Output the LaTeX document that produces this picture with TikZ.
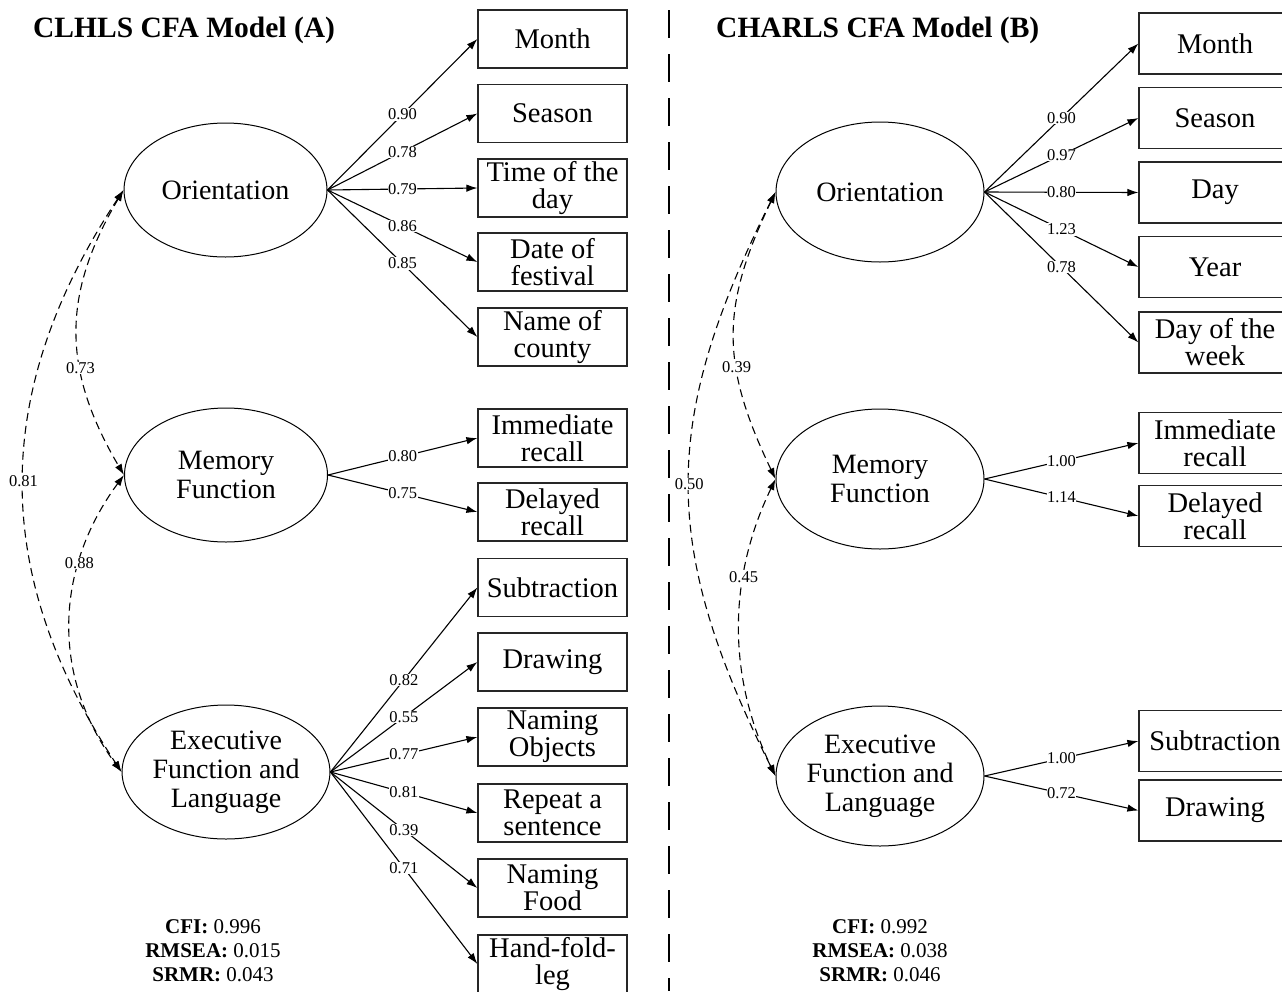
\documentclass[tikz,border=0pt]{standalone}
\usepackage{fontspec}
\setmainfont{Liberation Serif}
\usetikzlibrary{arrows.meta,shapes.geometric}
\begin{document}
\begin{tikzpicture}[x=1pt,y=-1pt,
  box/.style={draw, line width=1.2pt, draw=black!85, minimum width=149pt, minimum height=58pt, inner sep=0pt, align=center, font=\fontsize{28.5}{27}\selectfont},
  rbox/.style={box, minimum width=152pt, minimum height=61pt},
  lat/.style={ellipse, draw, line width=1pt, minimum width=203pt, minimum height=134pt, inner sep=0pt, align=center, font=\fontsize{28}{29}\selectfont},
  rlat/.style={lat, minimum width=208pt, minimum height=140pt},
  load/.style={line width=1.1pt, -{Latex[length=11pt,width=7.5pt]}},
  cov/.style={line width=1.1pt, dash pattern=on 8pt off 5pt, {Latex[length=11pt,width=7.5pt]}-{Latex[length=11pt,width=7.5pt]}},
  lbl/.style={fill=white, inner sep=0.5pt, font=\fontsize{16.5}{16.5}\selectfont},
  ttl/.style={anchor=base west, inner sep=0pt, font=\fontsize{29.5}{29.5}\selectfont\bfseries},
  fitstat/.style={align=center, inner sep=0pt, font=\fontsize{21}{24}\selectfont}
]
\useasboundingbox (0,0) rectangle (1282,991);

% ---------- Panel A ----------
\node[ttl] (tA) at (33,37) {CLHLS CFA Model (A)};

\node[lat] (ori1) at (225.5,190) {Orientation};
\node[lat] (mem1) at (226,475) {Memory\\Function};
\node[lat] (exe1) at (226,772) {Executive\\Function and\\Language};

\node[box] (m1)   at (552.5,39)    {Month};
\node[box] (s1)   at (552.5,113.5) {Season};
\node[box] (t1)   at (552.5,188)   {Time of the\\day};
\node[box] (d1)   at (552.5,262)   {Date of\\festival};
\node[box] (n1)   at (552.5,337)   {Name of\\county};
\node[box] (ir1)  at (552.5,438)   {Immediate\\recall};
\node[box] (dr1)  at (552.5,512)   {Delayed\\recall};
\node[box] (sub1) at (552.5,587.5) {Subtraction};
\node[box] (dra1) at (552.5,662)   {Drawing};
\node[box] (no1)  at (552.5,737)   {Naming\\Objects};
\node[box] (rep1) at (552.5,813)   {Repeat a\\sentence};
\node[box] (nf1)  at (552.5,888)   {Naming\\Food};
\node[box] (hf1)  at (552.5,964)   {Hand-fold-\\leg};

\draw[load] (ori1.east) -- (m1.west)  node[lbl,pos=0.5]{0.90};
\draw[load] (ori1.east) -- (s1.west)  node[lbl,pos=0.5]{0.78};
\draw[load] (ori1.east) -- (t1.west)  node[lbl,pos=0.5]{0.79};
\draw[load] (ori1.east) -- (d1.west)  node[lbl,pos=0.5]{0.86};
\draw[load] (ori1.east) -- (n1.west)  node[lbl,pos=0.5]{0.85};
\draw[load] (mem1.east) -- (ir1.west) node[lbl,pos=0.5]{0.80};
\draw[load] (mem1.east) -- (dr1.west) node[lbl,pos=0.5]{0.75};
\draw[load] (exe1.east) -- (sub1.west) node[lbl,pos=0.5]{0.82};
\draw[load] (exe1.east) -- (dra1.west) node[lbl,pos=0.5]{0.55};
\draw[load] (exe1.east) -- (no1.west)  node[lbl,pos=0.5]{0.77};
\draw[load] (exe1.east) -- (rep1.west) node[lbl,pos=0.5]{0.81};
\draw[load] (exe1.east) -- (nf1.west)  node[lbl,pos=0.5]{0.39};
\draw[load] (exe1.east) -- (hf1.west)  node[lbl,pos=0.5]{0.71};

\draw[cov] (ori1.west) .. controls +(-62,105) and +(-62,-105) .. (mem1.west) node[lbl,pos=0.63]{0.73};
\draw[cov] (ori1.west) .. controls +(-132,200) and +(-132,-200) .. (exe1.west) node[lbl,pos=0.5]{0.81};
\draw[cov] (mem1.west) .. controls +(-70,95) and +(-70,-95) .. (exe1.west) node[lbl,pos=0.3]{0.88};

\node[fitstat] (fitA) at (213,951) {\textbf{CFI:} 0.996\\\textbf{RMSEA:} 0.015\\\textbf{SRMR:} 0.043};

% ---------- Divider ----------
\coordinate (divtop) at (669,10);
\coordinate (divbot) at (669,991);
\draw[line width=2.5pt, dash pattern=on 28pt off 16pt] (divtop) -- (divbot);

% ---------- Panel B ----------
\node[ttl] (tB) at (716,37) {CHARLS CFA Model (B)};

\node[rlat] (ori2) at (880,192) {Orientation};
\node[rlat] (mem2) at (880,479) {Memory\\Function};
\node[rlat] (exe2) at (880,776) {Executive\\Function and\\Language};

\node[rbox] (m2)   at (1215,43.5)  {Month};
\node[rbox] (s2)   at (1215,118)   {Season};
\node[rbox] (day2) at (1215,192.5) {Day};
\node[rbox] (y2)   at (1215,267)   {Year};
\node[rbox] (w2)   at (1215,342.5) {Day of the\\week};
\node[rbox] (ir2)  at (1215,443)   {Immediate\\recall};
\node[rbox] (dr2)  at (1215,516)   {Delayed\\recall};
\node[rbox] (sub2) at (1215,741)   {Subtraction};
\node[rbox] (dra2) at (1215,810.5) {Drawing};

\draw[load] (ori2.east) -- (m2.west)   node[lbl,pos=0.5]{0.90};
\draw[load] (ori2.east) -- (s2.west)   node[lbl,pos=0.5]{0.97};
\draw[load] (ori2.east) -- (day2.west) node[lbl,pos=0.5]{0.80};
\draw[load] (ori2.east) -- (y2.west)   node[lbl,pos=0.5]{1.23};
\draw[load] (ori2.east) -- (w2.west)   node[lbl,pos=0.5]{0.78};
\draw[load] (mem2.east) -- (ir2.west)  node[lbl,pos=0.5]{1.00};
\draw[load] (mem2.east) -- (dr2.west)  node[lbl,pos=0.5]{1.14};
\draw[load] (exe2.east) -- (sub2.west) node[lbl,pos=0.5]{1.00};
\draw[load] (exe2.east) -- (dra2.west) node[lbl,pos=0.5]{0.72};

\draw[cov] (ori2.west) .. controls +(-55,115) and +(-55,-115) .. (mem2.west) node[lbl,pos=0.62]{0.39};
\draw[cov] (ori2.west) .. controls +(-115,230) and +(-115,-230) .. (exe2.west) node[lbl,pos=0.5]{0.50};
\draw[cov] (mem2.west) .. controls +(-48,100) and +(-48,-100) .. (exe2.west) node[lbl,pos=0.33]{0.45};

\node[fitstat] (fitB) at (880,951) {\textbf{CFI:} 0.992\\\textbf{RMSEA:} 0.038\\\textbf{SRMR:} 0.046};
\end{tikzpicture}
\end{document}
